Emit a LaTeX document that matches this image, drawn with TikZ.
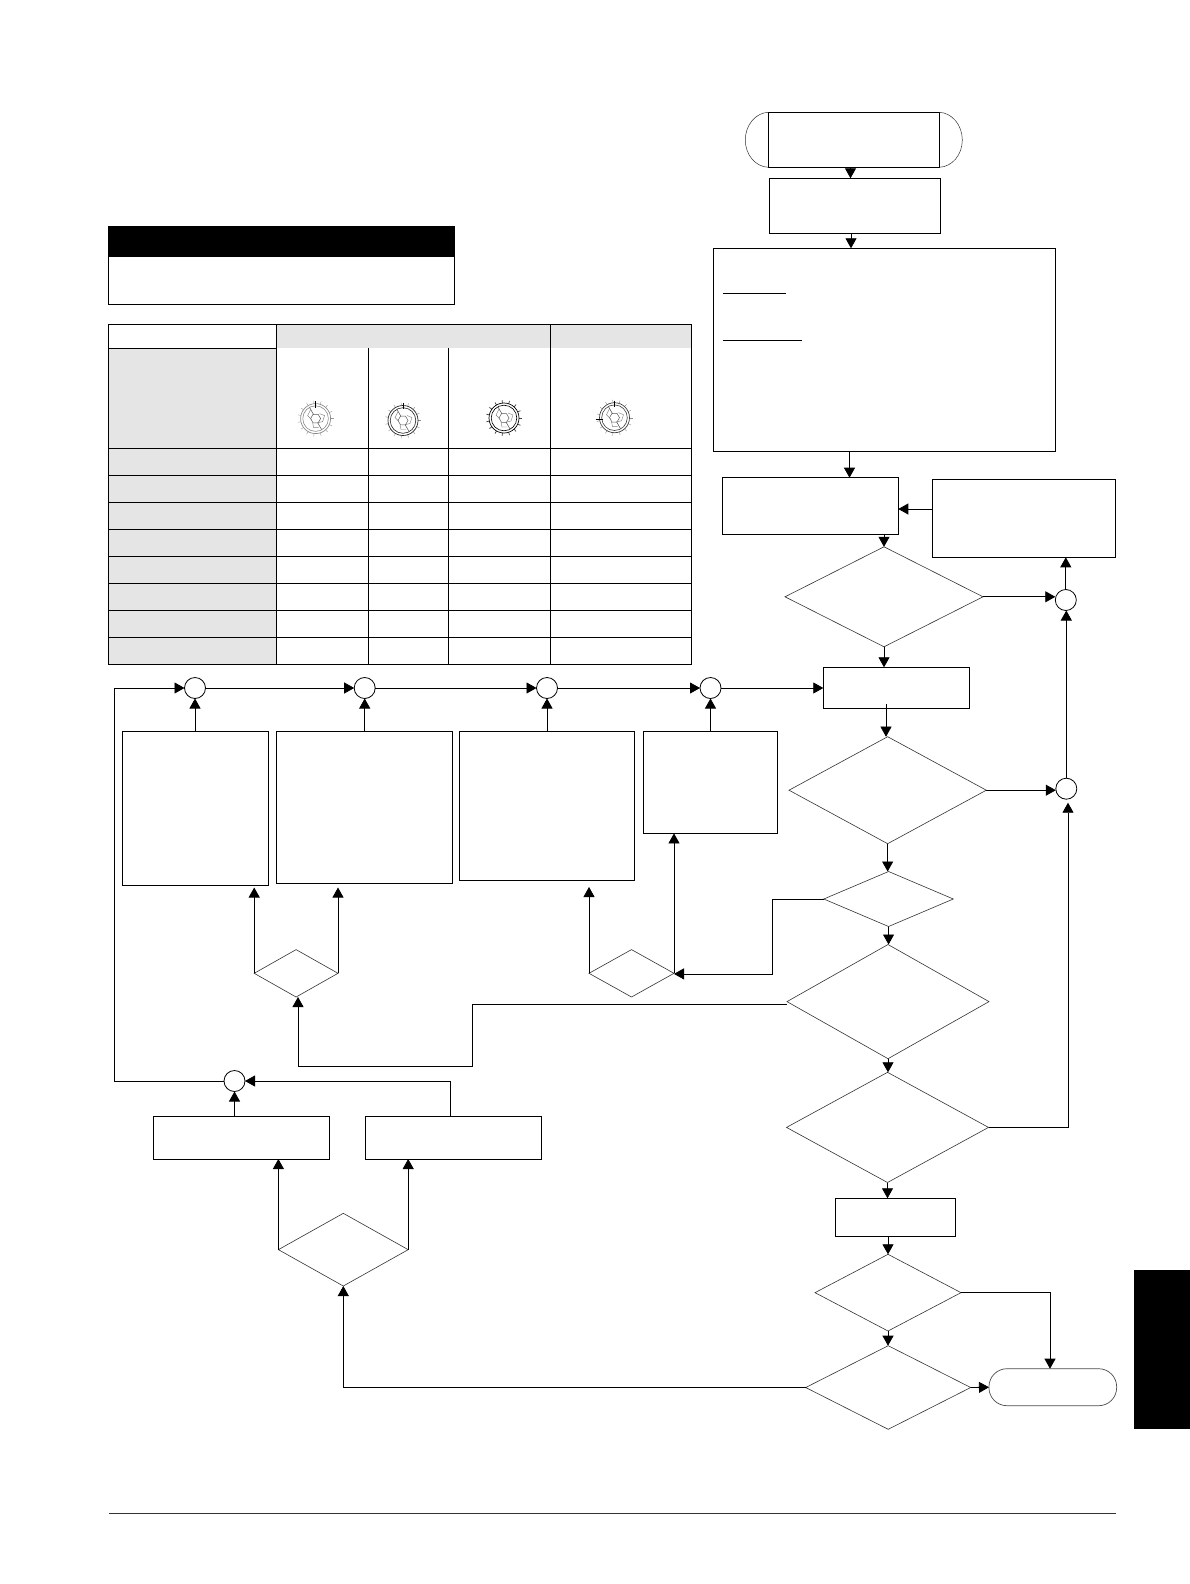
\documentclass[tikz,border=0pt]{standalone}
\usetikzlibrary{shapes.geometric,arrows.meta,calc}
\definecolor{cellgray}{gray}{0.9}
\tikzset{
  box/.style={draw=black,line width=.9pt,fill=white,inner sep=0,outer sep=0},
  dia/.style={draw=black!80,line width=.6pt,diamond,inner sep=0,outer sep=0,fill=white},
  joint/.style={draw=black,line width=.8pt,circle,minimum size=21pt,inner sep=0,outer sep=0,fill=white},
  conn/.style={line width=.8pt,black},
  arr/.style={conn,-{Triangle[length=10pt,width=11pt]}},
  rule/.style={line width=.9pt,black}
}
% box: name, x1, y1, x2, y2
\newcommand\bx[5]{\node[box,minimum width={(#4)-(#2)},minimum height={(#5)-(#3)}] (#1) at ({((#2)+(#4))/2},{((#3)+(#5))/2}) {};}
\newcommand\dm[5]{\node[dia,minimum width={(#4)-(#2)},minimum height={(#5)-(#3)}] (#1) at ({((#2)+(#4))/2},{((#3)+(#5))/2}) {};}
% dial: x, y, ring colour, tick colour, tick width
\newcommand\dial[5]{%
  \begin{scope}[shift={(#1,#2)}]
    \foreach \a in {0,24,...,336} \draw[#4,line width=#5] (\a:15) -- (\a:18);
    \draw[#3,line width=.7pt] (0,0) circle (15);
    \draw[#3,line width=.6pt] (0,0) circle (12.8);
    \draw[black!65,line width=.5pt] (0:5) -- (60:5) -- (120:5) -- (180:5) -- (240:5) -- (300:5) -- cycle;
    \draw[black!50,line width=.45pt] (-5,-9) -- (-8,-3) -- (-4,1) (4,-5) -- (9,-3) -- (7,3) -- (3,4) (-3,4) -- (-2,9) -- (3,9);
    \draw[black!70,line width=.5pt] (-6,-11) -- (-2,-4) (2,4) -- (6,11);
  \end{scope}}
\begin{document}
\begin{tikzpicture}[x=1pt,y=-1pt]
\useasboundingbox[fill=white] (0,0) rectangle (1190,1584);

% side tab and footer
\fill[black] (1134,1270) rectangle (1190,1429);
\draw[line width=.8pt,black!80] (109,1513.3) -- (1116.3,1513.3);

% warning box
\fill[black] (108.5,226.5) rectangle (454,257);
\draw[rule] (108.5,226.5) rectangle (454,304.3);

% table
\fill[cellgray] (277,324.3) rectangle (691.5,348.3);
\fill[cellgray] (108.5,348.3) rectangle (276.5,664.3);
\draw[rule] (108.5,324.3) rectangle (691.5,664.3);
\draw[rule] (108.5,348.3) -- (276.5,348.3);
\foreach \yy in {448.5,475.8,502.1,529.3,556.6,583.5,610.5,637.6}
  \draw[rule] (108.5,\yy) -- (691.5,\yy);
\draw[rule] (276.5,324.3) -- (276.5,664.3);
\draw[rule] (550.5,324.3) -- (550.5,664.3);
\draw[rule] (368,348.3) -- (368,664.3);
\draw[rule] (448,348.3) -- (448,664.3);

% dials
\dial{315.6}{418.6}{black!45}{black!40}{.4pt}
\draw[line width=.9pt] (315.6,401) -- (315.6,407.5);
\dial{403}{420.5}{black!85}{black!45}{.4pt}
\draw[line width=.9pt] (403,403) -- (403,409);
\dial{504}{418}{black}{black!75}{.7pt}
\dial{614.5}{417.7}{black!75}{black!45}{.4pt}
\draw[line width=.9pt] (614.5,400.5) -- (614.5,407);
\draw[line width=.9pt] (595.5,419) -- (602.5,419);

% start terminator
\bx{st}{768.3}{112.3}{939.3}{167.3}
\draw[line width=.5pt,black!80] (st.north west) .. controls (755.6,112.8) and (745.3,125) .. (745.3,140) .. controls (745.3,155) and (755.6,166.8) .. (st.south west);
\draw[line width=.5pt,black!80] (st.north east) .. controls (952,112.8) and (962.3,125) .. (962.3,140) .. controls (962.3,155) and (952,166.8) .. (st.south east);

% right-hand flow
\bx{ra}{769.3}{178.3}{940.3}{233.3}
\bx{big}{713.3}{248.3}{1055.7}{451.3}
\draw[line width=.8pt] (723,293) -- (786,293);
\draw[line width=.8pt] (723,340.7) -- (802,340.7);
\bx{bf}{722.3}{477.7}{898.3}{534.4}
\bx{bs}{932}{479}{1115.5}{557.3}
\dm{da}{785}{546.8}{983}{646.8}
\bx{tb}{823.3}{667.3}{969.3}{708.3}
\dm{db}{789}{736.7}{986.3}{843.7}
\dm{dc}{823.8}{871.5}{953.3}{926.5}
\dm{dd}{787}{944.5}{989}{1058.7}
\dm{de}{786.5}{1072.3}{988.5}{1182.5}
\bx{bg}{835.3}{1198.3}{955.3}{1236.3}
\dm{df}{815}{1254.3}{961}{1331}
\dm{dg}{805.7}{1345.7}{970.7}{1429.3}
\node[draw=black!70,line width=.7pt,rounded corners=18pt,minimum width=127.7pt,minimum height=37pt,inner sep=0,outer sep=0] (en) at (1052.8,1387.2) {};
\node[joint] (jr) at (1065.8,600) {};
\node[joint] (jq) at (1066.3,788.7) {};

% process row
\bx{pa}{122.2}{731.4}{268.7}{885.5}
\bx{pb}{276.6}{731.4}{452.4}{883.5}
\bx{pc}{459}{731.4}{634.4}{880}
\bx{pd}{643.5}{731.4}{777}{833.4}
\node[joint] (ja) at (195,688) {};
\node[joint] (jb) at (364.7,688) {};
\node[joint] (jc) at (547,688) {};
\node[joint] (jd) at (710.5,688) {};
\dm{sa}{254.2}{949.6}{338}{997}
\dm{sb}{589}{949.6}{674}{997}

% lower left
\bx{pe}{153.6}{1116.3}{329.3}{1159}
\bx{pf}{365.5}{1116.3}{541.5}{1159}
\node[joint] (je) at (234.5,1081) {};
\dm{sc}{278.4}{1213.3}{408.2}{1286}

% helper coordinates
\coordinate (xs) at (850.5,0);
\coordinate (xt) at (851,0);
\coordinate (xv) at (849.5,0);
\coordinate (ins) at (886,704);
\coordinate (bend) at (772.8,973.9);
\coordinate (xloop) at (472.8,0);
\coordinate (yloop) at (0,1066.3);
\coordinate (yleft) at (0,1004.3);
\coordinate (xlong) at (114.2,0);
\coordinate (xpf) at (450.5,0);
\coordinate (xdrop) at (1050,0);
\coordinate (yre) at (0,509);
\coordinate (jqx) at (1068,0);
\coordinate (xsa) at (298,0);

% connectors
\draw[arr] (xs |- st.south) -- (xs |- ra.north);
\draw[arr] (xt |- ra.south) -- (xt |- big.north);
\draw[arr] (xv |- big.south) -- (xv |- bf.north);
\draw[arr] (bs.west |- yre) -- (bf.east |- yre);
\draw[arr] (da.north |- bf.south) -- (da.north);
\draw[arr] (da.east) -- (da.east -| jr.west);
\draw[arr] (jr.north) -- (jr.north |- bs.south);
\draw[arr] (da.south) -- (da.south |- tb.north);
\draw[arr,line width=.5pt] (ins) -- (ins |- db.north);
\draw[arr] (db.east) -- (db.east -| jq.west);
\draw[arr] (jq.north) -- (jq.north |- jr.south);
\draw[arr] (db.south) -- (db.south |- dc.north);
\draw[arr] (dc.south) -- (dc.south |- dd.north);
\draw[arr] (dd.south) -- (dd.south |- de.north);
\draw[arr] (de.south) -- (de.south |- bg.north);
\draw[arr] (df.north |- bg.south) -- (df.north);
\draw[arr] (df.south) -- (df.south |- dg.north);
\draw[arr] (dg.east) -- (en.west);
\draw[arr] (df.east) -- (xdrop |- df.east) -- (xdrop |- en.north);
\draw[arr,shorten >=3.5pt] (de.east) -- (jqx |- de.east) -- (jqx |- jq.south);
\draw[arr] (dc.west) -- (bend |- dc.west) -- (bend) -- (sb.east |- bend);
\draw[arr] (sb.east) -- (sb.east |- pd.south);
\draw[arr,shorten >=7pt] (sb.west) -- (sb.west |- pc.south);
\draw[arr,shorten >=2pt] (sa.west) -- (sa.west |- pa.south);
\draw[arr,shorten >=4pt] (sa.east) -- (sa.east |- pb.south);
\draw[arr] (dd.west |- yleft) -- (xloop |- yleft) -- (xloop |- yloop) -- (xsa |- yloop) -- (xsa |- sa.south);
\draw[arr] (ja.south |- pa.north) -- (ja.south);
\draw[arr] (jb.south |- pb.north) -- (jb.south);
\draw[arr] (jc.south |- pc.north) -- (jc.south);
\draw[arr] (jd.south |- pd.north) -- (jd.south);
\draw[arr] (ja.east) -- (jb.west);
\draw[arr] (jb.east) -- (jc.west);
\draw[arr] (jc.east) -- (jd.west);
\draw[arr] (jd.east) -- (tb.west |- jd.east);
\draw[arr] (je.west) -- (xlong |- je.west) -- (xlong |- ja.west) -- (ja.west);
\draw[arr] (je.south |- pe.north) -- (je.south);
\draw[arr] (xpf |- pf.north) -- (xpf |- je.east) -- (je.east);
\draw[arr] (dg.west) -- (sc.south |- dg.west) -- (sc.south);
\draw[arr] (sc.west) -- (sc.west |- pe.south);
\draw[arr] (sc.east) -- (sc.east |- pf.south);
\end{tikzpicture}
\end{document}
